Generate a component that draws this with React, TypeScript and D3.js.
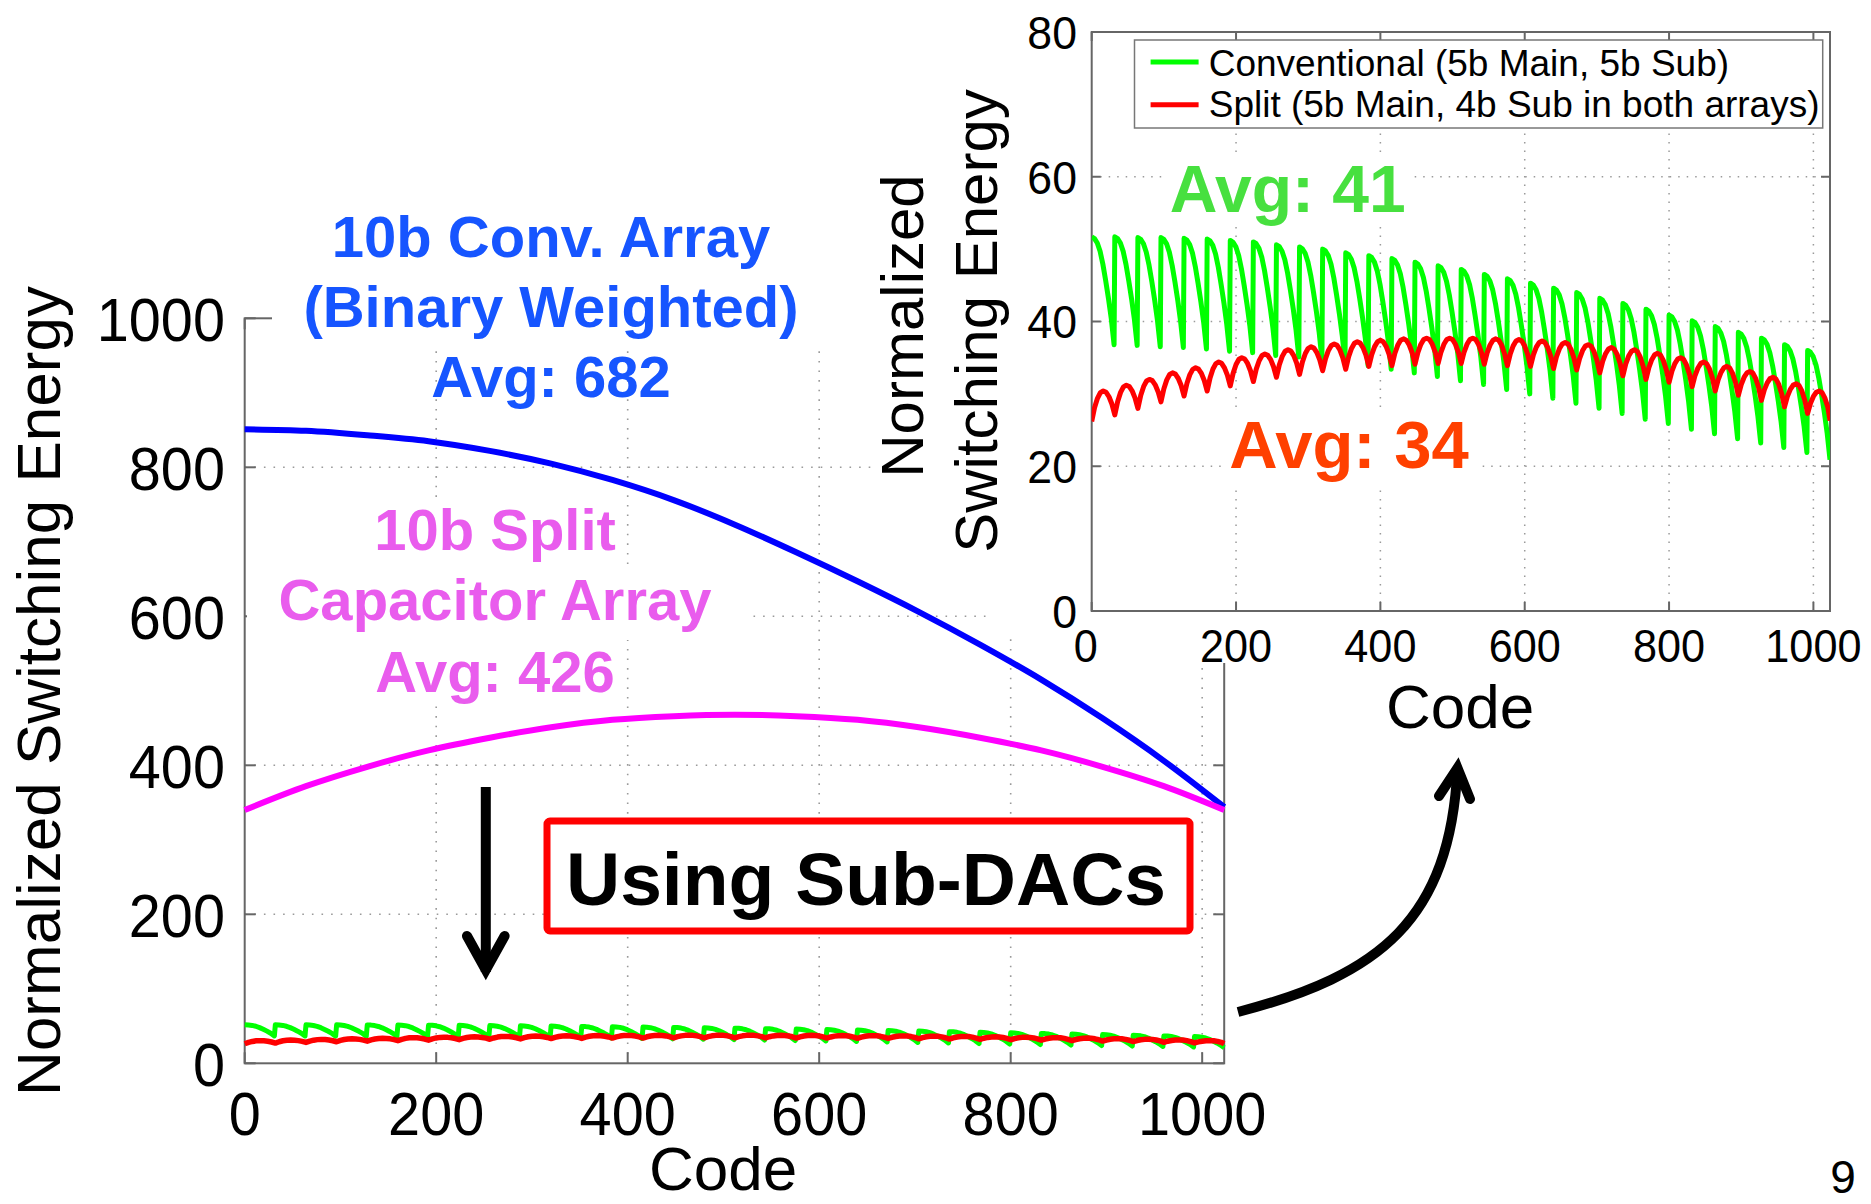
import React from "react";
import * as d3 from "d3";

const W = 1871;
const H = 1204;
const FONT = "'Liberation Sans', Arial, Helvetica, sans-serif";

// Full 10-bit arrays, sampled every 64 codes
const codeSamples = [0, 64, 128, 192, 256, 320, 384, 448, 512, 576, 640, 704, 768, 832, 896, 960, 1023];
const convArray = [851, 849, 843, 835, 822, 805, 783, 756, 723, 686, 647, 606, 562, 515, 463, 406, 344];
const splitArray = [340, 372, 398, 420, 437, 451, 461, 466, 468, 466, 461, 451, 437, 420, 398, 372, 340];

// Sub-DAC architectures: one tooth / arch per 32-code main step
const convSubPeaks = [51.7, 51.7, 51.6, 51.6, 51.5, 51.4, 51.2, 51.0, 50.6, 50.3, 50.0, 49.5, 49.1, 48.7, 48.2, 47.7,
  47.2, 46.5, 45.9, 45.3, 44.6, 44.0, 43.2, 42.5, 41.7, 40.9, 40.1, 39.3, 38.5, 37.7, 36.8, 36.0];
const convSubTroughs = [36.8, 36.7, 36.5, 36.4, 36.2, 35.9, 35.7, 35.3, 35.1, 34.8, 34.3, 33.9, 33.4, 32.9, 32.4, 31.8,
  31.3, 30.6, 30.0, 29.4, 28.7, 28.0, 27.3, 26.5, 25.9, 25.1, 24.5, 23.8, 23.2, 22.6, 21.9, 20.9];
const splitSubCusps = [26.2, 27.1, 28.0, 28.9, 29.7, 30.4, 31.1, 31.7, 32.3, 32.7, 33.2, 33.4, 33.8, 33.9, 34.1, 34.2,
  34.2, 34.1, 33.9, 33.8, 33.5, 33.3, 32.9, 32.5, 32.0, 31.6, 31.0, 30.4, 29.8, 29.1, 28.2, 27.3, 26.3];
const splitSubPeaks = [30.4, 31.2, 32.0, 32.9, 33.6, 34.4, 35.0, 35.5, 36.1, 36.5, 36.9, 37.2, 37.4, 37.6, 37.7, 37.7,
  37.7, 37.6, 37.5, 37.3, 37.1, 36.8, 36.4, 36.1, 35.6, 35.0, 34.4, 33.8, 33.1, 32.3, 31.4, 30.4];

// Shape of one 32-code segment, sampled at eighths of the segment
const segmentPhase = [0, 0.125, 0.25, 0.375, 0.5, 0.625, 0.75, 0.875, 1];
const convToothShape = [1, 0.984, 0.943, 0.866, 0.746, 0.594, 0.428, 0.241, 0];
const splitArchShape = [0, 0.453, 0.758, 0.945, 1, 0.945, 0.758, 0.453, 0];

// Axis ticks
const mainXTicks = [0, 200, 400, 600, 800, 1000];
const mainYTicks = [0, 200, 400, 600, 800, 1000];
const insetXTicks = [0, 200, 400, 600, 800, 1000];
const insetYTicks = [0, 20, 40, 60, 80];

// Legend entries
const legendLabels = ["Conventional (5b Main, 5b Sub)", "Split (5b Main, 4b Sub in both arrays)"];

type Pt = [number, number];

function convSubSeries(): Pt[] {
  const pts: Pt[] = [];
  convSubPeaks.forEach((pk, k) => {
    const tr = convSubTroughs[k];
    segmentPhase.forEach((ph, j) => {
      pts.push([32 * k + 31 * ph, tr + (pk - tr) * convToothShape[j]]);
    });
  });
  return pts;
}

function splitSubSeries(): Pt[] {
  const pts: Pt[] = [];
  splitSubPeaks.forEach((pk, k) => {
    segmentPhase.forEach((ph, j) => {
      if (k > 0 && j === 0) return;
      const base = ph <= 0.5 ? splitSubCusps[k] : splitSubCusps[k + 1];
      pts.push([Math.min(32 * k + 32 * ph, 1023), base + (pk - base) * splitArchShape[j]]);
    });
  });
  return pts;
}

const convSub = convSubSeries();
const splitSub = splitSubSeries();

function SText(props: {
  x: number; y: number; sx?: number; rotate?: number; anchor?: string; size: number;
  weight?: string | number; fill?: string; children: React.ReactNode; dy?: string;
}) {
  const { x, y, sx = 1, rotate = 0, anchor = "start", size, weight = "normal", fill = "#000", children, dy } = props;
  return (
    <text
      transform={`translate(${x},${y}) rotate(${rotate}) scale(${sx},1)`}
      textAnchor={anchor}
      fontFamily={FONT}
      fontSize={size}
      fontWeight={weight}
      fill={fill}
      dy={dy}
    >
      {children}
    </text>
  );
}

export default function App() {
  // Main axes
  const mx = d3.scaleLinear().domain([0, 1023]).range([244.7, 1224.2]);
  const my = d3.scaleLinear().domain([0, 1000]).range([1063.3, 318.3]);
  // Inset axes
  const ix = d3.scaleLinear().domain([0, 1023]).range([1091.7, 1830]);
  const iy = d3.scaleLinear().domain([0, 80]).range([611, 32]);

  const mainLine = d3.line<Pt>().x((d) => mx(d[0])).y((d) => my(d[1]));
  const mainSmooth = d3.line<Pt>().x((d) => mx(d[0])).y((d) => my(d[1])).curve(d3.curveMonotoneX);
  const insetLine = d3.line<Pt>().x((d) => ix(d[0])).y((d) => iy(d[1]));

  const convPts: Pt[] = codeSamples.map((c, i) => [c, convArray[i]]);
  const splitPts: Pt[] = codeSamples.map((c, i) => [c, splitArray[i]]);

  const axisColor = "#666";
  const gridColor = "#9a9a9a";
  const mX0 = mx(0), mX1 = mx(1023), mY0 = my(0), mY1 = my(1000);
  const iX0 = ix(0), iX1 = ix(1023), iY0 = iy(0), iY1 = iy(80);
  const mTick = 11;
  const iTick = 9;

  const blue = "#1655ff";
  const pink = "#e95ced";

  return (
    <svg width={W} height={H} viewBox={`0 0 ${W} ${H}`} style={{ display: "block", position: "absolute", left: 0, top: 0, background: "#fff" }}>
      <rect x={0} y={0} width={W} height={H} fill="#fff" />

      {/* ---------- main plot ---------- */}
      <g>
        {mainYTicks.filter((t) => t > 0 && t < 1000).map((t) => (
          <line key={"mgy" + t} x1={mX0} x2={mX1} y1={my(t)} y2={my(t)} stroke={gridColor} strokeWidth={1.6} strokeDasharray="1.6 8" />
        ))}
        {mainXTicks.filter((t) => t > 0).map((t) => (
          <line key={"mgx" + t} x1={mx(t)} x2={mx(t)} y1={mY0} y2={mY1} stroke={gridColor} strokeWidth={1.6} strokeDasharray="1.6 8" />
        ))}
        <rect x={mX0} y={mY1} width={mX1 - mX0} height={mY0 - mY1} fill="none" stroke={axisColor} strokeWidth={2} />
        {mainYTicks.map((t) => (
          <g key={"mty" + t}>
            <line x1={mX0} x2={mX0 + mTick} y1={my(t)} y2={my(t)} stroke={axisColor} strokeWidth={2} />
            <line x1={mX1 - mTick} x2={mX1} y1={my(t)} y2={my(t)} stroke={axisColor} strokeWidth={2} />
          </g>
        ))}
        {mainXTicks.map((t) => (
          <g key={"mtx" + t}>
            <line x1={mx(t)} x2={mx(t)} y1={mY0} y2={mY0 - mTick} stroke={axisColor} strokeWidth={2} />
            <line x1={mx(t)} x2={mx(t)} y1={mY1} y2={mY1 + mTick} stroke={axisColor} strokeWidth={2} />
          </g>
        ))}

        <path d={mainSmooth(convPts) || ""} fill="none" stroke="#0000ff" strokeWidth={6} />
        <path d={mainSmooth(splitPts) || ""} fill="none" stroke="#ff00ff" strokeWidth={6} />
        <path d={mainLine(convSub) || ""} fill="none" stroke="#00ff00" strokeWidth={5} strokeLinejoin="round" />
        <path d={mainLine(splitSub) || ""} fill="none" stroke="#ff0000" strokeWidth={5.5} strokeLinejoin="round" />

        {mainYTicks.map((t) => (
          <SText key={"mly" + t} x={225} y={my(t)} dy="0.36em" anchor="end" size={62} sx={0.93}>{t}</SText>
        ))}
        {mainXTicks.map((t) => (
          <SText key={"mlx" + t} x={mx(t)} y={1135} anchor="middle" size={62} sx={0.93}>{t}</SText>
        ))}
        <SText x={723} y={1190} anchor="middle" size={62}>Code</SText>
        <SText x={60} y={691} rotate={-90} anchor="middle" size={62}>Normalized Switching Energy</SText>
      </g>

      {/* ---------- annotations on the main plot ---------- */}
      <rect x={272} y={190} width={601} height={161} fill="#fff" />
      <SText x={551} y={256.7} anchor="middle" size={58} weight="bold" fill={blue}>10b Conv. Array</SText>
      <SText x={551} y={326.7} anchor="middle" size={58} weight="bold" fill={blue}>(Binary Weighted)</SText>
      <SText x={551} y={396.7} anchor="middle" size={58} weight="bold" fill={blue}>Avg: 682</SText>

      <rect x={367} y={500} width={255} height={68} fill="#fff" />
      <rect x={247} y={568} width={501} height={72} fill="#fff" />
      <rect x={367} y={640} width={254} height={66} fill="#fff" />
      <SText x={495} y={550} anchor="middle" size={58} weight="bold" fill={pink}>10b Split</SText>
      <SText x={495} y={620} anchor="middle" size={58} weight="bold" fill={pink}>Capacitor Array</SText>
      <SText x={495} y={691.7} anchor="middle" size={58} weight="bold" fill={pink}>Avg: 426</SText>

      {/* down arrow */}
      <line x1={485.8} x2={485.8} y1={787} y2={972} stroke="#000" strokeWidth={10} />
      <polyline points="467,936 485.8,970 504.6,936" fill="none" stroke="#000" strokeWidth={10} strokeLinecap="round" strokeLinejoin="miter" />

      {/* boxed caption */}
      <rect x={547} y={821} width={643} height={110} rx={3} fill="#fff" stroke="#ff0000" strokeWidth={7} />
      <SText x={866} y={905} anchor="middle" size={75} weight="bold">Using Sub-DACs</SText>

      {/* curved arrow pointing to the zoomed view */}
      <path d="M1238,1012 C1380,975 1450,920 1457.5,768" fill="none" stroke="#000" strokeWidth={10} />
      <polyline points="1439,796 1457.5,768 1470,799" fill="none" stroke="#000" strokeWidth={10} strokeLinecap="round" strokeLinejoin="miter" />

      {/* ---------- inset (zoomed) plot ---------- */}
      <rect x={873} y={0} width={W - 873} height={560} fill="#fff" />
      <rect x={988} y={0} width={W - 988} height={632} fill="#fff" />
      <rect x={1190} y={0} width={W - 1190} height={663} fill="#fff" />

      <defs>
        <clipPath id="insetClip">
          <rect x={iX0} y={iY1} width={iX1 - iX0} height={iY0 - iY1} />
        </clipPath>
      </defs>

      <g>
        {insetYTicks.filter((t) => t > 0 && t < 80).map((t) => (
          <line key={"igy" + t} x1={iX0} x2={iX1} y1={iy(t)} y2={iy(t)} stroke={gridColor} strokeWidth={1.5} strokeDasharray="1.5 7" />
        ))}
        {insetXTicks.filter((t) => t > 0).map((t) => (
          <line key={"igx" + t} x1={ix(t)} x2={ix(t)} y1={iY0} y2={iY1} stroke={gridColor} strokeWidth={1.5} strokeDasharray="1.5 7" />
        ))}
        <rect x={iX0} y={iY1} width={iX1 - iX0} height={iY0 - iY1} fill="none" stroke={axisColor} strokeWidth={2} />
        {insetYTicks.map((t) => (
          <g key={"ity" + t}>
            <line x1={iX0} x2={iX0 + iTick} y1={iy(t)} y2={iy(t)} stroke={axisColor} strokeWidth={2} />
            <line x1={iX1 - iTick} x2={iX1} y1={iy(t)} y2={iy(t)} stroke={axisColor} strokeWidth={2} />
          </g>
        ))}
        {insetXTicks.map((t) => (
          <g key={"itx" + t}>
            <line x1={ix(t)} x2={ix(t)} y1={iY0} y2={iY0 - iTick} stroke={axisColor} strokeWidth={2} />
            <line x1={ix(t)} x2={ix(t)} y1={iY1} y2={iY1 + iTick} stroke={axisColor} strokeWidth={2} />
          </g>
        ))}

        <g clipPath="url(#insetClip)">
          <path d={insetLine(convSub) || ""} fill="none" stroke="#00ff00" strokeWidth={5} strokeLinejoin="round" />
          <path d={insetLine(splitSub) || ""} fill="none" stroke="#ff0000" strokeWidth={5} strokeLinejoin="round" />
        </g>

        {/* average labels */}
        <rect x={1162} y={158} width={252} height={68} fill="#fff" />
        <SText x={1287.7} y={212} anchor="middle" size={66} weight="bold" fill="#47e03f">Avg: 41</SText>
        <rect x={1221} y={414} width={256} height={70} fill="#fff" />
        <SText x={1349} y={468} anchor="middle" size={67} weight="bold" fill="#ff4000">Avg: 34</SText>

        {/* legend */}
        <rect x={1134.5} y={40} width={688.2} height={88} fill="#fff" stroke="#777" strokeWidth={1.5} />
        {legendLabels.map((lab, i) => (
          <g key={"lg" + i}>
            <line x1={1150.6} x2={1198.6} y1={62 + i * 42.7} y2={62 + i * 42.7} stroke={i === 0 ? "#00ff00" : "#ff0000"} strokeWidth={5} />
            <SText x={1208.7} y={75.8 + i * 41.2} size={37}>{lab}</SText>
          </g>
        ))}

        {insetYTicks.map((t) => (
          <SText key={"ily" + t} x={1077} y={iy(t)} dy="0.36em" anchor="end" size={47} sx={0.95}>{t}</SText>
        ))}
        {insetXTicks.map((t) => (
          <SText key={"ilx" + t} x={t === 0 ? ix(t) - 6 : ix(t)} y={662} anchor="middle" size={47} sx={0.92}>{t}</SText>
        ))}
        <SText x={1460} y={728} anchor="middle" size={62}>Code</SText>
        <SText x={923} y={326} rotate={-90} anchor="middle" size={60}>Normalized</SText>
        <SText x={997} y={321} rotate={-90} anchor="middle" size={60}>Switching Energy</SText>
      </g>

      {/* slide number */}
      <SText x={1843} y={1193} anchor="middle" size={46}>9</SText>
    </svg>
  );
}
